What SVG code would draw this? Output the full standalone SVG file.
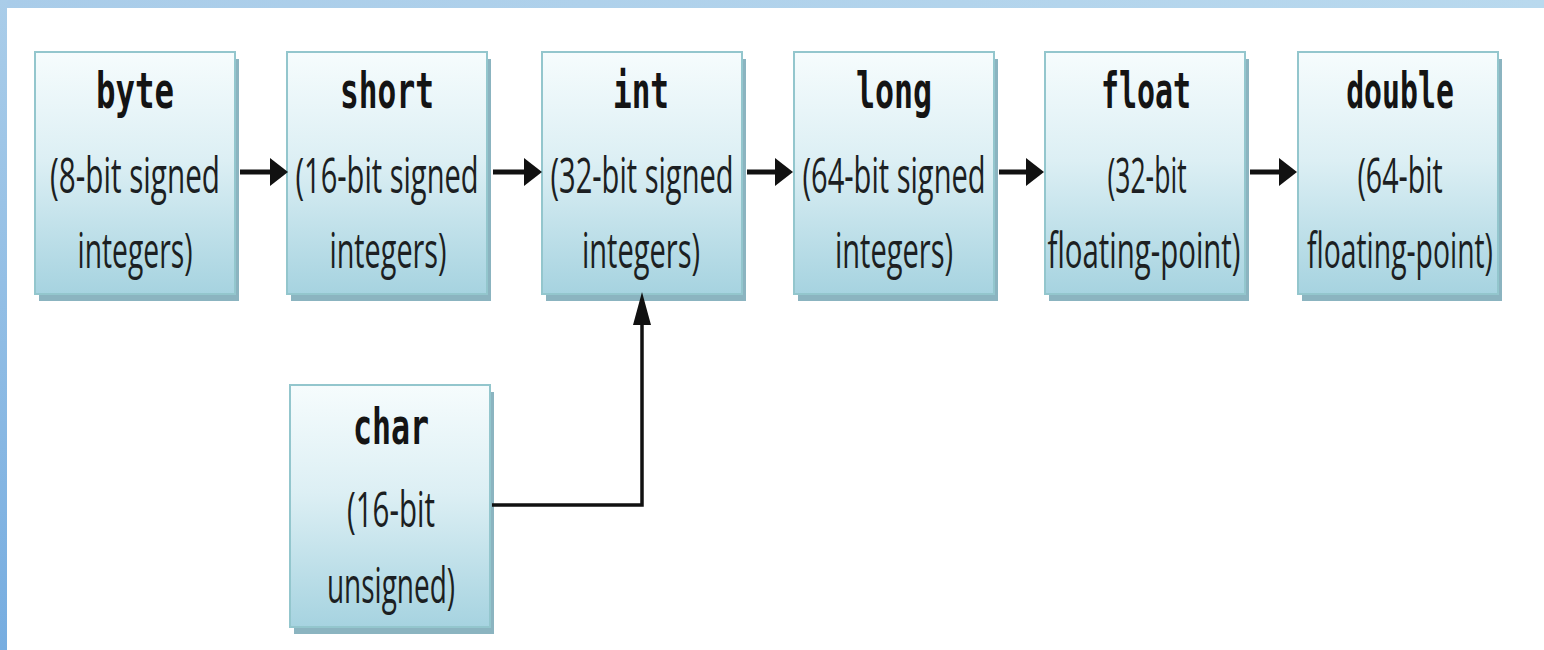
<svg xmlns="http://www.w3.org/2000/svg" width="1544" height="650" viewBox="0 0 1544 650">
<defs>
  <linearGradient id="boxg" x1="0" y1="0" x2="0" y2="1">
    <stop offset="0" stop-color="#f6fcfd"/>
    <stop offset="0.45" stop-color="#dceff4"/>
    <stop offset="1" stop-color="#a6d3e0"/>
  </linearGradient>
  <linearGradient id="leftg" x1="0" y1="0" x2="0" y2="1">
    <stop offset="0" stop-color="#aacde9"/>
    <stop offset="1" stop-color="#77ade0"/>
  </linearGradient>
  <linearGradient id="topg" x1="0" y1="0" x2="1" y2="0">
    <stop offset="0" stop-color="#a9cce9"/>
    <stop offset="1" stop-color="#b9d9ee"/>
  </linearGradient>
  <style>
    .shadow { fill: #8bb4c0; }
    .box { fill: url(#boxg); stroke: #93c6cd; stroke-width: 2; }
    .title { font-family: "DejaVu Sans Mono", "Liberation Mono", monospace; font-weight: bold; font-size: 50px; fill: #141414; text-anchor: middle; }
    .sub { font-family: "Open Sans", "Liberation Sans", sans-serif; font-size: 50px; fill: #1c1f22; text-anchor: middle; }
    .line { stroke: #111; fill: none; }
    .head { fill: #111; }
  </style>
</defs>
<rect x="0" y="0" width="1544" height="650" fill="#ffffff"/>
<rect x="0" y="0" width="1544" height="8" fill="url(#topg)"/>
<rect x="0" y="0" width="7" height="650" fill="url(#leftg)"/>

<g id="byte">
  <rect class="shadow" x="39" y="59" width="200" height="242"/>
  <rect class="box" x="35" y="52" width="200" height="242"/>
  <text class="title" transform="translate(135,108) scale(0.63,1)" textLength="124" lengthAdjust="spacingAndGlyphs">byte</text>
  <text class="sub" transform="translate(135,193) scale(0.55,1)" textLength="309" lengthAdjust="spacingAndGlyphs">(8-bit signed</text>
  <text class="sub" transform="translate(135,268) scale(0.55,1)" textLength="209" lengthAdjust="spacingAndGlyphs">integers)</text>
</g>
<g id="short">
  <rect class="shadow" x="291" y="59" width="200" height="242"/>
  <rect class="box" x="287" y="52" width="200" height="242"/>
  <text class="title" transform="translate(387,108) scale(0.63,1)" textLength="149" lengthAdjust="spacingAndGlyphs">short</text>
  <text class="sub" transform="translate(387,193) scale(0.55,1)" textLength="333" lengthAdjust="spacingAndGlyphs">(16-bit signed</text>
  <text class="sub" transform="translate(388,268) scale(0.55,1)" textLength="213" lengthAdjust="spacingAndGlyphs">integers)</text>
</g>
<g id="int">
  <rect class="shadow" x="546" y="59" width="200" height="242"/>
  <rect class="box" x="542" y="52" width="200" height="242"/>
  <text class="title" transform="translate(641,108) scale(0.63,1)" textLength="89" lengthAdjust="spacingAndGlyphs">int</text>
  <text class="sub" transform="translate(642,193) scale(0.55,1)" textLength="333" lengthAdjust="spacingAndGlyphs">(32-bit signed</text>
  <text class="sub" transform="translate(641,268) scale(0.55,1)" textLength="215" lengthAdjust="spacingAndGlyphs">integers)</text>
</g>
<g id="long">
  <rect class="shadow" x="798" y="59" width="200" height="242"/>
  <rect class="box" x="794" y="52" width="200" height="242"/>
  <text class="title" transform="translate(894,108) scale(0.63,1)" textLength="121" lengthAdjust="spacingAndGlyphs">long</text>
  <text class="sub" transform="translate(894,193) scale(0.55,1)" textLength="333" lengthAdjust="spacingAndGlyphs">(64-bit signed</text>
  <text class="sub" transform="translate(894,268) scale(0.55,1)" textLength="215" lengthAdjust="spacingAndGlyphs">integers)</text>
</g>
<g id="float">
  <rect class="shadow" x="1049" y="59" width="200" height="242"/>
  <rect class="box" x="1045" y="52" width="200" height="242"/>
  <text class="title" transform="translate(1146,108) scale(0.63,1)" textLength="143" lengthAdjust="spacingAndGlyphs">float</text>
  <text class="sub" transform="translate(1147,193) scale(0.55,1)" textLength="144" lengthAdjust="spacingAndGlyphs">(32-bit</text>
  <text class="sub" transform="translate(1144,268) scale(0.55,1)" textLength="351" lengthAdjust="spacingAndGlyphs">floating-point)</text>
</g>
<g id="double">
  <rect class="shadow" x="1302" y="59" width="200" height="242"/>
  <rect class="box" x="1298" y="52" width="200" height="242"/>
  <text class="title" transform="translate(1400,108) scale(0.63,1)" textLength="171" lengthAdjust="spacingAndGlyphs">double</text>
  <text class="sub" transform="translate(1400,193) scale(0.55,1)" textLength="155" lengthAdjust="spacingAndGlyphs">(64-bit</text>
  <text class="sub" transform="translate(1400,268) scale(0.55,1)" textLength="338" lengthAdjust="spacingAndGlyphs">floating-point)</text>
</g>
<g id="char">
  <rect class="shadow" x="294" y="392" width="200" height="242"/>
  <rect class="box" x="290" y="385" width="200" height="242"/>
  <text class="title" transform="translate(391,444) scale(0.63,1)" textLength="121" lengthAdjust="spacingAndGlyphs">char</text>
  <text class="sub" transform="translate(391,527) scale(0.55,1)" textLength="160" lengthAdjust="spacingAndGlyphs">(16-bit</text>
  <text class="sub" transform="translate(391,603) scale(0.55,1)" textLength="233" lengthAdjust="spacingAndGlyphs">unsigned)</text>
</g>

<g id="connectors">
  <line class="line" x1="240" y1="172" x2="272" y2="172" stroke-width="5"/>
  <polygon class="head" points="270,158 288,172 270,186"/>
  <line class="line" x1="493" y1="172" x2="526" y2="172" stroke-width="5"/>
  <polygon class="head" points="524,158 542,172 524,186"/>
  <line class="line" x1="747" y1="172" x2="777" y2="172" stroke-width="5"/>
  <polygon class="head" points="775,158 793,172 775,186"/>
  <line class="line" x1="999" y1="172" x2="1028" y2="172" stroke-width="5"/>
  <polygon class="head" points="1026,158 1044,172 1026,186"/>
  <line class="line" x1="1250" y1="172" x2="1281" y2="172" stroke-width="5"/>
  <polygon class="head" points="1279,158 1297,172 1279,186"/>
  <polyline class="line" points="492,505 642,505 642,322" stroke-width="3.5"/>
  <polygon class="head" points="633,325 642,292 651,325"/>
</g>
</svg>
